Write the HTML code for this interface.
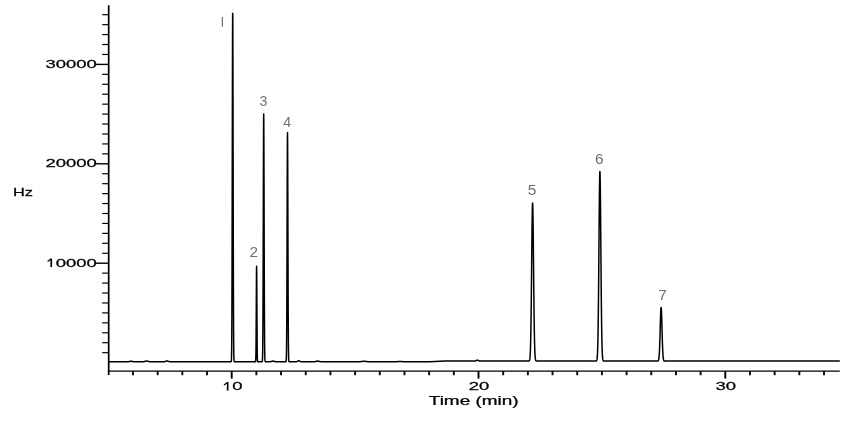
<!DOCTYPE html><html><head><meta charset="utf-8"><style>html,body{margin:0;padding:0;background:#fff}body{width:860px;height:421px;position:relative;overflow:hidden;font-family:"Liberation Sans",sans-serif}</style></head><body><svg width="860" height="421" viewBox="0 0 860 421" style="position:absolute;left:0;top:0">
<defs><clipPath id="c"><rect x="100" y="12.8" width="760" height="400"/></clipPath></defs>
<rect width="860" height="421" fill="#fff"/>
<g stroke="#000" fill="none">
<line x1="108.7" y1="5.2" x2="108.7" y2="375" stroke-width="1.7"/>
<line x1="107.9" y1="371.2" x2="839.8" y2="371.2" stroke-width="1.3"/>
<line x1="102.2" y1="14.70" x2="108.8" y2="14.70" stroke-width="1.2"/>
<line x1="102.2" y1="24.64" x2="108.8" y2="24.64" stroke-width="1.2"/>
<line x1="102.2" y1="34.58" x2="108.8" y2="34.58" stroke-width="1.2"/>
<line x1="102.2" y1="44.52" x2="108.8" y2="44.52" stroke-width="1.2"/>
<line x1="102.2" y1="54.46" x2="108.8" y2="54.46" stroke-width="1.2"/>
<line x1="95.8" y1="64.40" x2="108.8" y2="64.40" stroke-width="1.4"/>
<line x1="102.2" y1="74.34" x2="108.8" y2="74.34" stroke-width="1.2"/>
<line x1="102.2" y1="84.28" x2="108.8" y2="84.28" stroke-width="1.2"/>
<line x1="102.2" y1="94.22" x2="108.8" y2="94.22" stroke-width="1.2"/>
<line x1="102.2" y1="104.16" x2="108.8" y2="104.16" stroke-width="1.2"/>
<line x1="102.2" y1="114.10" x2="108.8" y2="114.10" stroke-width="1.2"/>
<line x1="102.2" y1="124.04" x2="108.8" y2="124.04" stroke-width="1.2"/>
<line x1="102.2" y1="133.98" x2="108.8" y2="133.98" stroke-width="1.2"/>
<line x1="102.2" y1="143.92" x2="108.8" y2="143.92" stroke-width="1.2"/>
<line x1="102.2" y1="153.86" x2="108.8" y2="153.86" stroke-width="1.2"/>
<line x1="95.8" y1="163.80" x2="108.8" y2="163.80" stroke-width="1.4"/>
<line x1="102.2" y1="173.74" x2="108.8" y2="173.74" stroke-width="1.2"/>
<line x1="102.2" y1="183.68" x2="108.8" y2="183.68" stroke-width="1.2"/>
<line x1="102.2" y1="193.62" x2="108.8" y2="193.62" stroke-width="1.2"/>
<line x1="102.2" y1="203.56" x2="108.8" y2="203.56" stroke-width="1.2"/>
<line x1="102.2" y1="213.50" x2="108.8" y2="213.50" stroke-width="1.2"/>
<line x1="102.2" y1="223.44" x2="108.8" y2="223.44" stroke-width="1.2"/>
<line x1="102.2" y1="233.38" x2="108.8" y2="233.38" stroke-width="1.2"/>
<line x1="102.2" y1="243.32" x2="108.8" y2="243.32" stroke-width="1.2"/>
<line x1="102.2" y1="253.26" x2="108.8" y2="253.26" stroke-width="1.2"/>
<line x1="95.8" y1="263.20" x2="108.8" y2="263.20" stroke-width="1.4"/>
<line x1="102.2" y1="273.14" x2="108.8" y2="273.14" stroke-width="1.2"/>
<line x1="102.2" y1="283.08" x2="108.8" y2="283.08" stroke-width="1.2"/>
<line x1="102.2" y1="293.02" x2="108.8" y2="293.02" stroke-width="1.2"/>
<line x1="102.2" y1="302.96" x2="108.8" y2="302.96" stroke-width="1.2"/>
<line x1="102.2" y1="312.90" x2="108.8" y2="312.90" stroke-width="1.2"/>
<line x1="102.2" y1="322.84" x2="108.8" y2="322.84" stroke-width="1.2"/>
<line x1="102.2" y1="332.78" x2="108.8" y2="332.78" stroke-width="1.2"/>
<line x1="102.2" y1="342.72" x2="108.8" y2="342.72" stroke-width="1.2"/>
<line x1="102.2" y1="352.66" x2="108.8" y2="352.66" stroke-width="1.2"/>
<line x1="132.98" y1="371.2" x2="132.98" y2="375.2" stroke-width="1.9"/>
<line x1="157.66" y1="371.2" x2="157.66" y2="375.2" stroke-width="1.9"/>
<line x1="182.34" y1="371.2" x2="182.34" y2="375.2" stroke-width="1.9"/>
<line x1="207.02" y1="371.2" x2="207.02" y2="375.2" stroke-width="1.9"/>
<line x1="231.70" y1="371.2" x2="231.70" y2="378.6" stroke-width="1.9"/>
<line x1="256.38" y1="371.2" x2="256.38" y2="375.2" stroke-width="1.9"/>
<line x1="281.06" y1="371.2" x2="281.06" y2="375.2" stroke-width="1.9"/>
<line x1="305.74" y1="371.2" x2="305.74" y2="375.2" stroke-width="1.9"/>
<line x1="330.42" y1="371.2" x2="330.42" y2="375.2" stroke-width="1.9"/>
<line x1="355.10" y1="371.2" x2="355.10" y2="375.2" stroke-width="1.9"/>
<line x1="379.78" y1="371.2" x2="379.78" y2="375.2" stroke-width="1.9"/>
<line x1="404.46" y1="371.2" x2="404.46" y2="375.2" stroke-width="1.9"/>
<line x1="429.14" y1="371.2" x2="429.14" y2="375.2" stroke-width="1.9"/>
<line x1="453.82" y1="371.2" x2="453.82" y2="375.2" stroke-width="1.9"/>
<line x1="478.50" y1="371.2" x2="478.50" y2="378.6" stroke-width="1.9"/>
<line x1="503.18" y1="371.2" x2="503.18" y2="375.2" stroke-width="1.9"/>
<line x1="527.86" y1="371.2" x2="527.86" y2="375.2" stroke-width="1.9"/>
<line x1="552.54" y1="371.2" x2="552.54" y2="375.2" stroke-width="1.9"/>
<line x1="577.22" y1="371.2" x2="577.22" y2="375.2" stroke-width="1.9"/>
<line x1="601.90" y1="371.2" x2="601.90" y2="375.2" stroke-width="1.9"/>
<line x1="626.58" y1="371.2" x2="626.58" y2="375.2" stroke-width="1.9"/>
<line x1="651.26" y1="371.2" x2="651.26" y2="375.2" stroke-width="1.9"/>
<line x1="675.94" y1="371.2" x2="675.94" y2="375.2" stroke-width="1.9"/>
<line x1="700.62" y1="371.2" x2="700.62" y2="375.2" stroke-width="1.9"/>
<line x1="725.30" y1="371.2" x2="725.30" y2="378.6" stroke-width="1.9"/>
<line x1="749.98" y1="371.2" x2="749.98" y2="375.2" stroke-width="1.9"/>
<line x1="774.66" y1="371.2" x2="774.66" y2="375.2" stroke-width="1.9"/>
<line x1="799.34" y1="371.2" x2="799.34" y2="375.2" stroke-width="1.9"/>
<line x1="824.02" y1="371.2" x2="824.02" y2="375.2" stroke-width="1.9"/>
</g>
<rect x="232.2" y="9.1" width="1.2" height="0.7" fill="#aaa"/>
<path d="M108.8,361.7L128.0,361.7L128.5,361.7L129.0,361.6L129.5,361.6L130.0,361.5L130.5,361.3L131.0,361.3L131.5,361.3L132.0,361.5L132.5,361.6L133.0,361.6L133.5,361.7L134.0,361.7L143.0,361.7L143.6,361.7L144.2,361.6L144.8,361.5L145.4,361.3L146.0,361.1L146.6,361.0L147.2,361.1L147.8,361.3L148.4,361.5L149.0,361.6L149.6,361.7L150.2,361.7L164.0,361.7L164.5,361.7L165.0,361.6L165.5,361.4L166.0,361.2L166.5,361.0L167.0,360.9L167.5,361.0L168.0,361.2L168.5,361.4L169.0,361.6L169.5,361.7L170.0,361.7L230.6,361.7L230.7,361.7L230.8,361.7L230.9,361.7L231.0,361.7L231.1,361.6L231.2,361.4L231.3,360.9L231.4,359.9L231.5,357.8L231.6,353.7L231.7,346.2L231.8,333.7L231.9,314.1L232.0,285.6L232.1,247.5L232.2,200.6L232.3,148.3L232.4,96.1L232.5,51.1L232.6,20.6L232.7,9.8L232.8,20.6L232.9,51.1L233.0,96.1L233.1,148.3L233.2,200.6L233.3,247.5L233.4,285.6L233.5,314.1L233.6,333.7L233.7,346.2L233.8,353.7L233.9,357.8L234.0,359.9L234.1,360.9L234.2,361.4L234.3,361.6L234.4,361.7L234.5,361.7L234.6,361.7L234.7,361.7L234.8,361.7L255.0,361.7L255.1,361.7L255.2,361.7L255.3,361.7L255.4,361.7L255.5,361.6L255.6,361.3L255.7,360.6L255.8,359.0L255.9,355.4L256.0,348.8L256.1,337.9L256.2,322.5L256.3,303.8L256.4,285.3L256.5,271.5L256.6,266.3L256.7,271.5L256.8,285.3L256.9,303.8L257.0,322.5L257.1,337.9L257.2,348.8L257.3,355.4L257.4,359.0L257.5,360.6L257.6,361.3L257.7,361.6L257.8,361.7L257.9,361.7L258.0,361.7L258.1,361.7L258.2,361.7L261.6,361.7L261.7,361.7L261.8,361.7L261.9,361.7L262.0,361.7L262.1,361.6L262.2,361.5L262.3,361.2L262.4,360.4L262.5,358.9L262.6,356.1L262.7,350.8L262.8,342.0L262.9,328.2L263.0,308.1L263.1,281.3L263.2,248.3L263.3,211.5L263.4,174.7L263.5,143.1L263.6,121.6L263.7,114.0L263.8,121.6L263.9,143.1L264.0,174.7L264.1,211.5L264.2,248.3L264.3,281.3L264.4,308.1L264.5,328.2L264.6,342.0L264.7,350.8L264.8,356.1L264.9,358.9L265.0,360.4L265.1,361.2L265.2,361.5L265.3,361.6L265.4,361.7L265.5,361.7L265.6,361.7L265.7,361.7L265.8,361.7L270.0,361.7L270.5,361.7L271.0,361.6L271.5,361.5L272.0,361.3L272.5,361.2L273.0,361.1L273.5,361.2L274.0,361.3L274.5,361.5L275.0,361.6L275.5,361.7L276.0,361.7L285.4,361.7L285.5,361.7L285.6,361.7L285.7,361.7L285.8,361.7L285.9,361.6L286.0,361.5L286.1,361.2L286.2,360.5L286.3,359.2L286.4,356.5L286.5,351.6L286.6,343.5L286.7,330.7L286.8,312.2L286.9,287.3L287.0,256.8L287.1,222.7L287.2,188.8L287.3,159.5L287.4,139.6L287.5,132.6L287.6,139.6L287.7,159.5L287.8,188.8L287.9,222.7L288.0,256.8L288.1,287.3L288.2,312.2L288.3,330.7L288.4,343.5L288.5,351.6L288.6,356.5L288.7,359.2L288.8,360.5L288.9,361.2L289.0,361.5L289.1,361.6L289.2,361.7L289.3,361.7L289.4,361.7L289.5,361.7L289.6,361.7L296.0,361.7L296.4,361.7L296.9,361.6L297.4,361.4L297.8,361.1L298.2,360.8L298.7,360.7L299.1,360.8L299.6,361.1L300.1,361.4L300.5,361.6L300.9,361.7L301.4,361.7L314.1,361.7L314.7,361.7L315.3,361.6L315.9,361.5L316.5,361.3L317.1,361.2L317.7,361.1L318.3,361.2L318.9,361.3L319.5,361.5L320.1,361.6L320.7,361.7L321.3,361.7L359.5,361.7L360.2,361.7L361.0,361.6L361.8,361.6L362.5,361.5L363.2,361.3L364.0,361.3L364.8,361.3L365.5,361.5L366.2,361.6L367.0,361.6L367.8,361.7L368.5,361.7L395.5,361.7L396.2,361.7L397.0,361.7L397.8,361.6L398.5,361.5L399.2,361.4L400.0,361.4L400.8,361.4L401.5,361.5L402.2,361.6L403.0,361.7L403.8,361.7L404.5,361.7L430.0,361.7L445.0,361.0L474.4,361.0L474.9,361.0L475.4,360.9L475.9,360.7L476.4,360.5L476.9,360.3L477.4,360.2L477.9,360.3L478.4,360.5L478.9,360.7L479.4,360.9L479.9,361.0L480.4,361.0L527.8,361.0L527.9,361.0L528.0,361.0L528.1,361.0L528.2,361.0L528.3,361.0L528.4,361.0L528.5,361.0L528.6,361.0L528.7,361.0L528.8,360.9L528.9,360.9L529.0,360.9L529.1,360.8L529.2,360.7L529.3,360.6L529.4,360.5L529.5,360.2L529.6,359.9L529.7,359.5L529.8,358.9L529.9,358.2L530.0,357.3L530.1,356.1L530.2,354.5L530.3,352.6L530.4,350.2L530.5,347.3L530.6,343.8L530.7,339.6L530.8,334.8L530.9,329.2L531.0,322.8L531.1,315.6L531.2,307.7L531.3,299.1L531.4,289.9L531.5,280.2L531.6,270.3L531.7,260.2L531.8,250.2L531.9,240.6L532.0,231.7L532.1,223.5L532.2,216.5L532.3,210.8L532.4,206.6L532.5,204.0L532.6,203.1L532.7,204.0L532.8,206.6L532.9,210.8L533.0,216.5L533.1,223.5L533.2,231.7L533.3,240.6L533.4,250.2L533.5,260.2L533.6,270.3L533.7,280.2L533.8,289.9L533.9,299.1L534.0,307.7L534.1,315.6L534.2,322.8L534.3,329.2L534.4,334.8L534.5,339.6L534.6,343.8L534.7,347.3L534.8,350.2L534.9,352.6L535.0,354.5L535.1,356.1L535.2,357.3L535.3,358.2L535.4,358.9L535.5,359.5L535.6,359.9L535.7,360.2L535.8,360.5L535.9,360.6L536.0,360.7L536.1,360.8L536.2,360.9L536.3,360.9L536.4,360.9L536.5,361.0L536.6,361.0L536.7,361.0L536.8,361.0L536.9,361.0L537.0,361.0L537.1,361.0L537.2,361.0L537.3,361.0L537.4,361.0L595.1,361.0L595.2,361.0L595.3,361.0L595.4,361.0L595.5,361.0L595.6,361.0L595.7,361.0L595.8,361.0L595.9,361.0L596.0,361.0L596.1,360.9L596.2,360.9L596.3,360.9L596.4,360.8L596.5,360.7L596.6,360.5L596.7,360.3L596.8,360.1L596.9,359.7L597.0,359.2L597.1,358.5L597.2,357.7L597.3,356.5L597.4,355.1L597.5,353.2L597.6,350.9L597.7,348.0L597.8,344.5L597.9,340.3L598.0,335.4L598.1,329.5L598.2,322.8L598.3,315.1L598.4,306.5L598.5,297.1L598.6,286.7L598.7,275.7L598.8,264.1L598.9,252.2L599.0,240.1L599.1,228.1L599.2,216.6L599.3,205.8L599.4,196.1L599.5,187.7L599.6,180.8L599.7,175.8L599.8,172.6L599.9,171.6L600.0,172.6L600.1,175.8L600.2,180.8L600.3,187.7L600.4,196.1L600.5,205.8L600.6,216.6L600.7,228.1L600.8,240.1L600.9,252.2L601.0,264.1L601.1,275.7L601.2,286.7L601.3,297.1L601.4,306.5L601.5,315.1L601.6,322.8L601.7,329.5L601.8,335.4L601.9,340.3L602.0,344.5L602.1,348.0L602.2,350.9L602.3,353.2L602.4,355.1L602.5,356.5L602.6,357.7L602.7,358.5L602.8,359.2L602.9,359.7L603.0,360.1L603.1,360.3L603.2,360.5L603.3,360.7L603.4,360.8L603.5,360.9L603.6,360.9L603.7,360.9L603.8,361.0L603.9,361.0L604.0,361.0L604.1,361.0L604.2,361.0L604.3,361.0L604.4,361.0L604.5,361.0L604.6,361.0L604.7,361.0L656.5,361.0L656.6,361.0L656.7,361.0L656.8,361.0L656.9,361.0L657.0,361.0L657.1,361.0L657.2,361.0L657.3,361.0L657.4,361.0L657.5,361.0L657.6,361.0L657.7,361.0L657.8,360.9L657.9,360.9L658.0,360.9L658.1,360.8L658.2,360.7L658.3,360.6L658.4,360.4L658.5,360.2L658.6,359.9L658.7,359.5L658.8,359.0L658.9,358.3L659.0,357.5L659.1,356.5L659.2,355.2L659.3,353.8L659.4,352.0L659.5,350.0L659.6,347.7L659.7,345.0L659.8,342.2L659.9,339.0L660.0,335.7L660.1,332.1L660.2,328.6L660.3,325.0L660.4,321.5L660.5,318.2L660.6,315.2L660.7,312.5L660.8,310.4L660.9,308.8L661.0,307.8L661.1,307.5L661.2,307.8L661.3,308.8L661.4,310.4L661.5,312.5L661.6,315.2L661.7,318.2L661.8,321.5L661.9,325.0L662.0,328.6L662.1,332.1L662.2,335.7L662.3,339.0L662.4,342.2L662.5,345.0L662.6,347.7L662.7,350.0L662.8,352.0L662.9,353.8L663.0,355.2L663.1,356.5L663.2,357.5L663.3,358.3L663.4,359.0L663.5,359.5L663.6,359.9L663.7,360.2L663.8,360.4L663.9,360.6L664.0,360.7L664.1,360.8L664.2,360.9L664.3,360.9L664.4,360.9L664.5,361.0L664.6,361.0L664.7,361.0L664.8,361.0L664.9,361.0L665.0,361.0L665.1,361.0L665.2,361.0L665.3,361.0L665.4,361.0L665.5,361.0L665.6,361.0L665.7,361.0L839.8,361.0" fill="none" stroke="#000" stroke-width="1.5" stroke-linejoin="round" clip-path="url(#c)"/>
<g font-family="Liberation Sans, sans-serif" style="opacity:0.999">
<text transform="translate(96.90,68.00) scale(0.1622,0.1)" font-size="114.0" text-anchor="end" fill="#000" stroke="#000" stroke-width="2.50">30000</text>
<text transform="translate(96.90,167.20) scale(0.1622,0.1)" font-size="114.0" text-anchor="end" fill="#000" stroke="#000" stroke-width="2.50">20000</text>
<rect x="50.40" y="258.60" width="1.7" height="8.45" fill="#000"/><path d="M47.55,261.50 L51.05,259.05" stroke="#000" stroke-width="1.3" fill="none"/><text transform="translate(96.90,266.70) scale(0.1622,0.1)" font-size="114.0" text-anchor="end" fill="#000" stroke="#000" stroke-width="2.50">&#160;&#160;0000</text>
<rect x="226.82" y="382.10" width="1.7" height="8.45" fill="#000"/><path d="M223.97,385.00 L227.47,382.55" stroke="#000" stroke-width="1.3" fill="none"/><text transform="translate(232.20,390.20) scale(0.1622,0.1)" font-size="114.0" text-anchor="middle" fill="#000" stroke="#000" stroke-width="2.50">&#160;&#160;0</text>
<text transform="translate(479.00,390.20) scale(0.1622,0.1)" font-size="114.0" text-anchor="middle" fill="#000" stroke="#000" stroke-width="2.50">20</text>
<text transform="translate(725.80,390.20) scale(0.1622,0.1)" font-size="114.0" text-anchor="middle" fill="#000" stroke="#000" stroke-width="2.50">30</text>
<text transform="translate(473.70,405.45) scale(0.1580,0.1)" font-size="120.0" text-anchor="middle" fill="#000" stroke="#000" stroke-width="2.50">Time (min)</text>
<text transform="translate(23.00,195.90) scale(0.1435,0.1)" font-size="114.0" text-anchor="middle" fill="#000" stroke="#000" stroke-width="2.50">Hz</text>
<line x1="222.4" y1="17" x2="222.4" y2="26.7" stroke="#707070" stroke-width="1.2"/>
<text transform="translate(253.80,256.70) scale(0.1120,0.1)" font-size="138.0" text-anchor="middle" fill="#707070" stroke="#707070" stroke-width="0.00">2</text>
<text transform="translate(263.50,106.30) scale(0.1030,0.1)" font-size="138.0" text-anchor="middle" fill="#707070" stroke="#707070" stroke-width="0.00">3</text>
<text transform="translate(287.10,126.70) scale(0.1030,0.1)" font-size="138.0" text-anchor="middle" fill="#707070" stroke="#707070" stroke-width="0.00">4</text>
<text transform="translate(532.00,195.10) scale(0.1120,0.1)" font-size="138.0" text-anchor="middle" fill="#707070" stroke="#707070" stroke-width="0.00">5</text>
<text transform="translate(599.20,164.30) scale(0.1120,0.1)" font-size="138.0" text-anchor="middle" fill="#707070" stroke="#707070" stroke-width="0.00">6</text>
<text transform="translate(662.50,299.70) scale(0.1120,0.1)" font-size="138.0" text-anchor="middle" fill="#707070" stroke="#707070" stroke-width="0.00">7</text>
</g>
</svg></body></html>
